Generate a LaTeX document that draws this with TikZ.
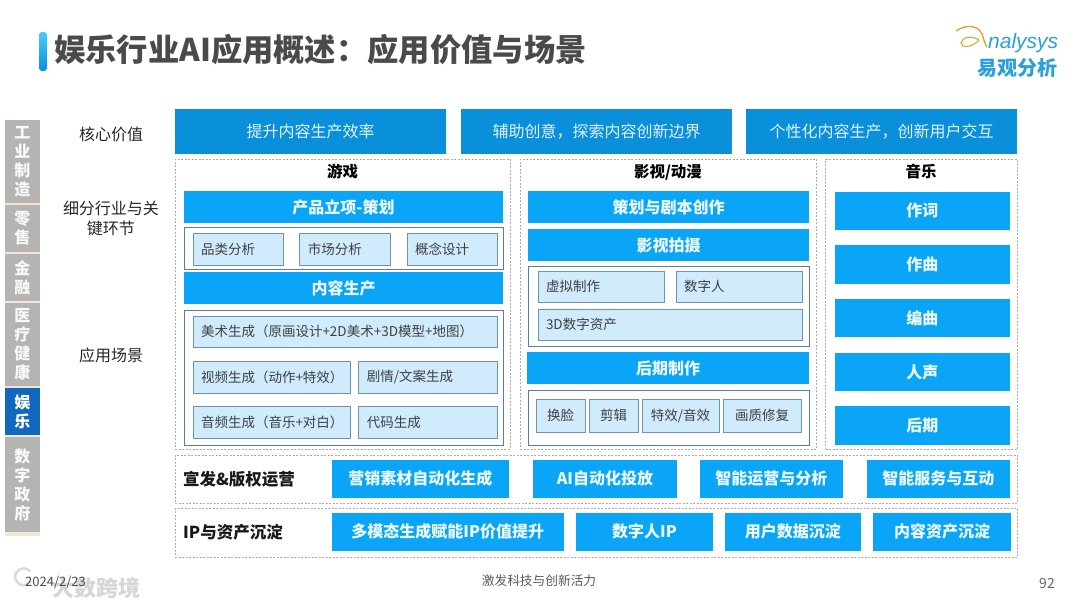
\documentclass[tikz,border=0pt]{standalone}
\usepackage{fontspec}
\setmainfont{Noto Sans CJK SC}
\newfontfamily\logofont{Liberation Sans}
\usepackage{tikz}
\definecolor{corefill}{HTML}{0A90DB}
\definecolor{headfill}{HTML}{0AA5F6}
\definecolor{palefill}{HTML}{CFEBFC}
\definecolor{paleline}{HTML}{6D93AD}
\definecolor{frameline}{HTML}{557F9C}
\definecolor{dashline}{HTML}{B0ABA5}
\definecolor{sidegray}{HTML}{B6B4B2}
\definecolor{sideblue}{HTML}{1268BF}
\definecolor{sidegap}{HTML}{F3E6D6}
\definecolor{titlegray}{HTML}{4A4A4A}
\definecolor{logoblue}{HTML}{2AA0D8}
\definecolor{logoorange}{HTML}{E3A32E}
\tikzset{
	corebox/.style={fill=corefill, text=white!88!corefill, inner sep=0pt, font=\fontsize{16}{16}\selectfont},
	headbox/.style={fill=headfill, text=white!92!headfill, inner sep=0pt, font=\fontsize{16}{16}\selectfont\bfseries},
	widehead/.style={headbox, minimum height=38.5pt},
	palebox/.style={draw=paleline, fill=palefill, text=black!75, inner sep=0pt, font=\fontsize{13.5}{13.5}\selectfont},
	framebox/.style={draw=frameline, inner sep=0pt},
	panelbox/.style={draw=dashline, dash pattern=on 2pt off 1.5pt, inner sep=0pt},
	sidebox/.style={fill=sidegray, text=white!92!sidegray, inner sep=0pt, align=center, minimum width=35.5pt, font=\fontsize{16}{19}\selectfont\bfseries},
	rowlabel/.style={text=black!85, align=center, font=\fontsize{16}{20}\selectfont},
	panelname/.style={text=black, font=\fontsize{15.5}{15.5}\selectfont\bfseries},
	opsname/.style={text=black!90, anchor=west, inner sep=0pt, font=\fontsize{16.5}{16.5}\selectfont\bfseries},
}
\begin{document}
\begin{tikzpicture}[x=1pt,y=-1pt]
	\useasboundingbox (0,0) rectangle (1080,608);

	\shade[top color=cyan!70!blue!70, bottom color=corefill, rounded corners=3pt] (39,32) rectangle (47,71);
	\node[text=titlegray, anchor=west, inner sep=0pt, font=\fontsize{31.3}{31.3}\selectfont\bfseries] (title) at (54,50) {娱乐行业AI应用概述^^^^ff1a应用价值与场景};

	\draw[logoorange, line width=1.4pt] (956,31) .. controls (966,24) and (978,25) .. (982,34) .. controls (984,40) and (985,44) .. (987,47);
	\draw[logoorange, line width=1.1pt] (979,40) .. controls (972,35) and (962,37) .. (961,43) .. controls (961,48) and (972,48) .. (979,40);
	\node[text=logoblue, anchor=west, inner sep=0pt, font=\logofont\itshape\fontsize{21}{21}\selectfont] (logoen) at (988,43) {nalysys};
	\node[text=logoblue, inner sep=0pt, font=\fontsize{20}{20}\selectfont\bfseries] (logocn) at (1017,68) {易观分析};

	\fill[sidegap] (4.5,120) rectangle (40,536);
	\node[sidebox, minimum height=83pt] (gongye) at (22.25,161.5) {工\\业\\制\\造};
	\node[sidebox, minimum height=47pt] (lingshou) at (22.25,228) {零\\售};
	\node[sidebox, minimum height=47pt] (jinrong) at (22.25,277.5) {金\\融};
	\node[sidebox, minimum height=83pt] (yiliao) at (22.25,344.5) {医\\疗\\健\\康};
	\node[sidebox, fill=sideblue, text=white, minimum height=47pt] (yule) at (22.25,411.5) {娱\\乐};
	\node[sidebox, minimum height=95pt] (zhengfu) at (22.25,484.5) {数\\字\\政\\府};

	\node[rowlabel] (hexin) at (111,134) {核心价值};
	\node[rowlabel] (xifen) at (111,218) {细分行业与关\\键环节};
	\node[rowlabel] (changjing) at (111,355) {应用场景};

	\node[corebox, minimum width=271pt, minimum height=44.5pt] (xiaolv) at (310.5,131.5) {提升内容生产效率};
	\node[corebox, minimum width=271pt, minimum height=44.5pt] (chuangyi) at (596.5,131.5) {辅助创意^^^^ff0c探索内容创新边界};
	\node[corebox, minimum width=271pt, minimum height=44.5pt] (jiaohu) at (881.5,131.5) {个性化内容生产^^^^ff0c创新用户交互};

	\node[panelbox, minimum width=335pt, minimum height=290pt] (youxi) at (342.5,304) {};
	\node[panelbox, minimum width=296.5pt, minimum height=290pt] (yingshi) at (668.25,304) {};
	\node[panelbox, minimum width=192pt, minimum height=290pt] (yinyue) at (921.5,304) {};
	\node[panelname] at (342.5,172) {游戏};
	\node[panelname] at (668,172) {影视/动漫};
	\node[panelname] at (921,172) {音乐};

	\node[headbox, minimum width=319pt, minimum height=32pt] (lixiang) at (343.5,207) {产品立项-策划};
	\node[framebox, minimum width=319pt, minimum height=41.5pt] (lixiangframe) at (343.5,248.25) {};
	\node[palebox, minimum width=90pt, minimum height=32.5pt, text width=74pt] (pinlei) at (238,249.25) {品类分析};
	\node[palebox, minimum width=90.5pt, minimum height=32.5pt, text width=74pt] (shichang) at (344.75,249.25) {市场分析};
	\node[palebox, minimum width=90pt, minimum height=32.5pt, text width=74pt] (gainian) at (452,249.25) {概念设计};
	\node[headbox, minimum width=319pt, minimum height=32pt] (neirong) at (343.5,288) {内容生产};
	\node[framebox, minimum width=319pt, minimum height=135.5pt] (neirongframe) at (343.5,377.75) {};
	\node[palebox, minimum width=304pt, minimum height=31.5pt, text width=288pt] (meishu) at (345,331.75) {美术生成^^^^ff08原画设计+2D美术+3D模型+地图^^^^ff09};
	\node[palebox, minimum width=157pt, minimum height=32pt, text width=141pt] (shipin) at (271.5,377) {视频生成^^^^ff08动作+特效^^^^ff09};
	\node[palebox, minimum width=138.5pt, minimum height=32pt, text width=122pt] (juqing) at (427.75,377) {剧情/文案生成};
	\node[palebox, minimum width=157pt, minimum height=32pt, text width=141pt] (yinpin) at (271.5,422.5) {音频生成^^^^ff08音乐+对白^^^^ff09};
	\node[palebox, minimum width=138.5pt, minimum height=32pt, text width=122pt] (daima) at (427.75,422.5) {代码生成};

	\node[headbox, minimum width=281pt, minimum height=32pt] (juben) at (668.5,207) {策划与剧本创作};
	\node[headbox, minimum width=281pt, minimum height=32pt] (paishe) at (668.5,245) {影视拍摄};
	\node[framebox, minimum width=281pt, minimum height=80.5pt] (paisheframe) at (669,306.25) {};
	\node[palebox, minimum width=126pt, minimum height=31.5pt, text width=110pt] (xuni) at (601,286.75) {虚拟制作};
	\node[palebox, minimum width=126pt, minimum height=31.5pt, text width=110pt] (shuziren) at (739,286.75) {数字人};
	\node[palebox, minimum width=264pt, minimum height=31.5pt, text width=248pt] (zichan) at (670,324.75) {3D数字资产};
	\node[headbox, minimum width=282pt, minimum height=32pt] (houqi) at (668,368) {后期制作};
	\node[framebox, minimum width=281pt, minimum height=55.5pt] (houqiframe) at (669,417.75) {};
	\node[palebox, minimum width=49pt, minimum height=32.5pt] (huanlian) at (560.5,415.75) {换脸};
	\node[palebox, minimum width=49pt, minimum height=32.5pt] (jianji) at (613.5,415.75) {剪辑};
	\node[palebox, minimum width=77pt, minimum height=32.5pt] (texiao) at (680.5,415.75) {特效/音效};
	\node[palebox, minimum width=78pt, minimum height=32.5pt] (huazhi) at (762,415.75) {画质修复};

	\node[headbox, minimum width=175.5pt, minimum height=38pt] (zuoci) at (922.25,210.5) {作词};
	\node[headbox, minimum width=175.5pt, minimum height=39pt] (zuoqu) at (922.25,264.5) {作曲};
	\node[headbox, minimum width=175.5pt, minimum height=38pt] (bianqu) at (922.25,318) {编曲};
	\node[headbox, minimum width=175.5pt, minimum height=38pt] (rensheng) at (922.25,372) {人声};
	\node[headbox, minimum width=175.5pt, minimum height=39pt] (yyhouqi) at (922.25,425.5) {后期};

	\node[panelbox, minimum width=842.5pt, minimum height=48pt] (yunying) at (596.25,479) {};
	\node[opsname] (xuanfa) at (183,479.5) {宣发\&版权运营};
	\node[widehead, minimum width=177.5pt] (yingxiao) at (420.25,478.75) {营销素材自动化生成};
	\node[widehead, minimum width=144pt] (toufang) at (605,478.75) {AI自动化投放};
	\node[widehead, minimum width=143.5pt] (fenxi) at (771.25,478.75) {智能运营与分析};
	\node[widehead, minimum width=143.5pt] (hudong) at (938.25,478.75) {智能服务与互动};

	\node[panelbox, minimum width=842.5pt, minimum height=48.5pt] (chendian) at (596.25,532.75) {};
	\node[opsname] (ipzc) at (183,532.5) {IP与资产沉淀};
	\node[widehead, minimum width=232.5pt] (duomotai) at (447.75,531.75) {多模态生成赋能IP价值提升};
	\node[widehead, minimum width=137pt] (szrip) at (644.5,531.75) {数字人IP};
	\node[widehead, minimum width=136.5pt] (yonghu) at (792.75,531.75) {用户数据沉淀};
	\node[widehead, minimum width=138pt] (nrzc) at (942,531.75) {内容资产沉淀};

	\draw[black!14, line width=2.5pt] (31,581) arc (30:320:8.5);
	\node[text=black!16, anchor=west, inner sep=0pt, font=\fontsize{22}{22}\selectfont\bfseries] (mark) at (52,588) {大数跨境};
	\node[text=black!70, anchor=west, inner sep=0pt, font=\fontsize{13}{13}\selectfont] (date) at (25,582) {2024/2/23};
	\node[text=black!65, inner sep=0pt, font=\fontsize{12.7}{12.7}\selectfont] (foot) at (539,581) {激发科技与创新活力};
	\node[text=black!60, inner sep=0pt, font=\fontsize{14}{14}\selectfont] (page) at (1047,584) {92};
\end{tikzpicture}
\end{document}
